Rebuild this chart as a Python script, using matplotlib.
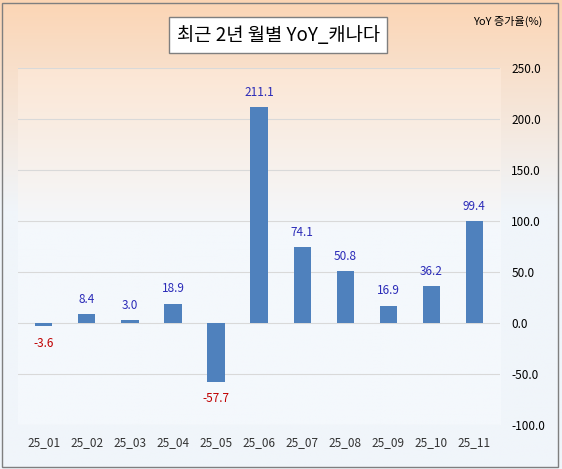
import numpy as np
import matplotlib.pyplot as plt
from matplotlib.patches import Rectangle

plt.rcParams['font.family'] = ['Noto Sans CJK KR', 'DejaVu Sans']

months = ['25_01', '25_02', '25_03', '25_04', '25_05', '25_06',
          '25_07', '25_08', '25_09', '25_10', '25_11']
yoy = [-3.6, 8.4, 3.0, 18.9, -57.7, 211.1, 74.1, 50.8, 16.9, 36.2, 99.4]
yticks = [-100, -50, 0, 50, 100, 150, 200, 250]

fig = plt.figure(figsize=(5.62, 4.69), dpi=100)

# background gradient (peach -> pale blue)
bg = fig.add_axes([0, 0, 1, 1], zorder=-10)
top = np.array([252, 213, 180]) / 255
bot = np.array([240, 245, 250]) / 255
t = np.clip(np.linspace(0, 1, 256) / 0.45, 0, 1)[:, None]
grad = top * (1 - t) + bot * t
bg.imshow(grad[:, None, :].repeat(2, axis=1), aspect='auto', extent=[0, 1, 0, 1])
bg.add_patch(Rectangle((0.003, 0.004), 0.99, 0.99, fill=False, ec='#7f7f7f', lw=1))
bg.set_xlim(0, 1); bg.set_ylim(0, 1); bg.axis('off')

ax = fig.add_axes([0.032, 0.094, 0.858, 0.762])
inner_top = np.array([252, 230, 212]) / 255
inner_bot = np.array([244, 248, 252]) / 255
t2 = np.clip(np.linspace(0, 1, 256) / 0.45, 0, 1)[:, None]
g2 = inner_top * (1 - t2) + inner_bot * t2
ax.imshow(g2[:, None, :].repeat(2, axis=1), aspect='auto',
          extent=[-0.6, len(months) - 0.4, -100, 250], zorder=0)

x = np.arange(len(months))
ax.bar(x, yoy, width=0.4, color='#4f81bd', zorder=3)
for xi, v in zip(x, yoy):
    if v >= 0:
        ax.text(xi, v + 8, f'{v:.1f}', ha='center', va='bottom', fontsize=8.5, color='#2b2bb8', zorder=4)
    else:
        ax.text(xi, v - 10, f'{v:.1f}', ha='center', va='top', fontsize=8.5, color='#c00000', zorder=4)

ax.set_xlim(-0.6, len(months) - 0.4)
ax.set_ylim(-100, 250)
ax.set_yticks(yticks)
ax.set_yticklabels([f'{v:.1f}' for v in yticks], fontsize=8.5)
for lab, v in zip(ax.get_yticklabels(), yticks):
    lab.set_color('#c00000' if v < 0 else '#333333')
ax.yaxis.tick_right()
ax.grid(axis='y', color='#d9d9d9', lw=0.8, zorder=1)
ax.set_xticks(x)
ax.set_xticklabels(months, fontsize=8.5, color='#333333')
ax.tick_params(length=0, pad=8)
for s in ax.spines.values():
    s.set_visible(False)

fig.text(0.495, 0.925, '최근 2년 월별 YoY_캐나다', ha='center', va='center', fontsize=13.5,
         bbox=dict(boxstyle='square,pad=0.4', fc='white', ec='#7f7f7f', lw=1))
fig.text(0.965, 0.955, 'YoY 증가율(%)', ha='right', va='center', fontsize=8)

fig.savefig('out.png', dpi=100)
